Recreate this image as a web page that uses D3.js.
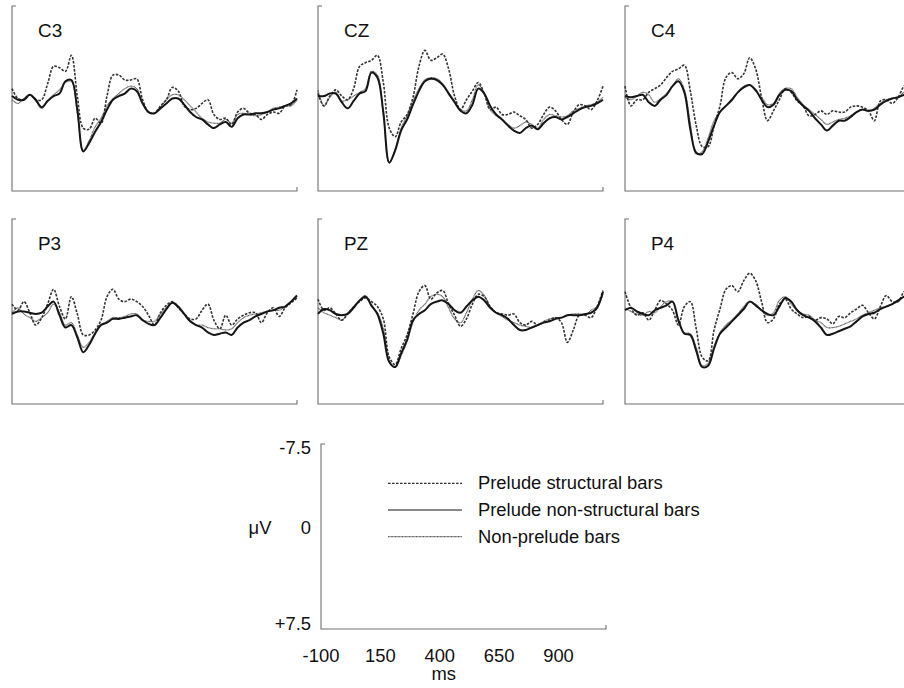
<!DOCTYPE html>
<html>
<head>
<meta charset="utf-8">
<script src="https://cdn.jsdelivr.net/npm/d3@7"></script>
<style>
  body { margin: 0; background: #fff; }
  text { font-family: "Liberation Sans", Arial, sans-serif; fill: #111; }
</style>
</head>
<body>
<div id="chart"></div>
<script>
// sampling grid of the waveforms, ms (one value every 25 ms)
const times = d3.range(-100, 1101, 25);

const electrodes = ['C3', 'CZ', 'C4', 'P3', 'PZ', 'P4'];
const seriesNames = ['Prelude structural bars', 'Prelude non-structural bars', 'Non-prelude bars'];
const xTicks = [-100, 150, 400, 650, 900];
const yTicks = [-7.5, 0, 7.5];
const yTickLabels = ['-7.5', '0', '+7.5'];

// amplitudes in microvolts (negative plotted up)
const c3Struct = [-0.8, 0.0, 0.1, -0.3, 0.1, 0.1, -1.2, -2.6, -2.5, -2.2, -3.5, -0.2, 2.4, 2.5, 1.6, 2.0, -0.2, -1.9, -1.9, -1.5, -1.5, -1.6, 0.1, 1.1, 1.2, 0.6, 0.1, -0.9, -0.6, 0.6, 0.9, 0.8, 0.4, 0.1, 1.3, 1.7, 1.6, 2.1, 1.1, 0.8, 1.2, 1.3, 1.7, 1.3, 1.1, 1.2, 0.6, 0.5, -0.7];
const c3NonStruct = [-0.2, 0.1, 0.1, -0.3, 0.1, 0.7, 0.2, -0.2, -0.4, -1.4, -1.5, 0.9, 4.3, 3.6, 2.7, 1.9, 0.9, 0.1, -0.2, -0.4, -0.8, -0.6, 0.4, 1.1, 1.2, 0.8, 0.4, 0.0, 0.0, 0.5, 1.1, 1.5, 1.7, 2.1, 2.4, 2.1, 1.9, 2.3, 1.6, 1.3, 1.3, 1.2, 1.2, 1.1, 0.9, 0.8, 0.6, 0.4, 0.0];
const c3NonPrelude = [0.1, 0.4, 0.0, -0.3, 0.2, 0.8, 0.2, -0.3, -0.7, -1.3, -1.4, 1.2, 4.2, 3.4, 2.3, 1.6, 0.6, 0.0, -0.4, -0.8, -1.0, -0.8, 0.4, 1.1, 1.2, 0.7, 0.1, -0.3, -0.3, 0.1, 0.6, 1.1, 1.6, 1.9, 2.0, 2.0, 1.7, 2.0, 1.3, 1.2, 1.3, 1.4, 1.3, 1.1, 0.8, 0.7, 0.6, 0.6, 0.1];

const czStruct = [-0.4, 0.6, -0.2, -0.7, -0.2, 0.1, -0.8, -2.6, -2.9, -3.1, -3.5, -1.3, 2.4, 3.1, 1.9, 1.3, -0.1, -2.6, -3.9, -3.1, -3.3, -3.6, -2.4, -0.2, 0.9, 0.1, -0.6, -1.3, -0.4, 0.9, 0.7, 1.3, 1.3, 1.1, 1.4, 1.7, 2.4, 2.1, 1.3, 0.7, 1.0, 1.7, 2.1, 1.1, 0.5, 0.6, 0.9, 0.2, -1.0];
const czNonStruct = [-0.2, -0.2, -0.4, -0.4, 0.3, 0.8, 0.2, -0.4, -0.6, -2.1, -1.7, 1.1, 5.2, 4.2, 2.6, 1.7, 0.5, -0.6, -1.4, -1.6, -1.5, -1.1, -0.4, 0.3, 1.0, 1.2, 0.5, -0.8, -0.4, 0.6, 1.3, 1.7, 2.2, 2.6, 2.8, 2.4, 2.2, 2.5, 2.0, 1.6, 1.5, 1.7, 1.5, 1.2, 0.9, 0.7, 0.6, 0.4, 0.1];
const czNonPrelude = [-0.7, 0.6, -0.1, -0.5, 0.2, 0.1, -0.2, -0.5, -0.8, -2.2, -1.9, 1.3, 5.2, 4.1, 2.4, 1.4, 0.2, -0.8, -1.5, -1.7, -1.6, -1.2, -0.5, 0.2, 0.9, 1.0, 0.1, -1.1, -0.4, 0.9, 1.4, 1.7, 2.1, 2.4, 2.2, 1.9, 2.1, 2.4, 1.7, 1.3, 1.4, 1.5, 1.4, 1.0, 0.8, 0.6, 0.5, 0.3, -0.1];

const c4Struct = [-1.0, 0.6, 0.1, 0.1, -0.5, -0.8, -1.1, -1.7, -2.2, -2.4, -2.7, -0.6, 2.2, 3.9, 3.9, 2.2, 0.6, -1.7, -2.1, -1.6, -2.0, -3.3, -2.4, -0.1, 1.8, 1.0, 0.1, -0.8, -0.5, 0.2, 0.6, 1.4, 1.3, 1.0, 1.3, 1.0, 1.1, 1.1, 0.7, 0.6, 0.7, 1.0, 1.8, 0.2, 0.1, 0.4, -0.1, -1.0, -1.3];
const c4NonStruct = [-0.2, -0.1, -0.2, -0.3, 0.3, 0.6, 0.1, -0.3, -1.0, -1.4, -0.5, 2.5, 4.4, 4.5, 3.5, 2.2, 1.1, 0.6, 0.1, -0.5, -0.9, -1.1, -0.7, 0.1, 0.7, 0.5, -0.3, -0.7, -0.6, 0.1, 0.6, 1.0, 1.6, 2.1, 2.6, 2.2, 1.8, 1.8, 1.5, 1.1, 0.9, 1.0, 0.9, 0.5, 0.2, 0.0, -0.1, -0.3, -0.5];
const c4NonPrelude = [-0.1, 0.1, -0.2, -0.5, -0.3, 0.3, 0.0, -0.4, -1.0, -1.6, -0.7, 2.0, 4.5, 4.3, 3.2, 1.8, 1.1, 0.6, 0.2, -0.5, -1.0, -1.1, -0.6, -0.1, 0.5, 0.4, -0.4, -0.8, -0.8, -0.1, 0.5, 0.9, 1.3, 1.7, 2.1, 1.9, 1.7, 1.6, 1.4, 1.1, 0.9, 1.0, 0.8, 0.4, 0.1, 0.0, -0.1, -0.5, -0.7];

const p3Struct = [-0.6, -0.1, -0.8, 0.1, 1.1, 0.5, -0.6, -1.8, -0.4, 0.6, -1.2, 0.2, 1.9, 1.9, 1.5, 0.7, -1.2, -1.8, -1.0, -0.8, -1.0, -0.8, -0.4, 0.3, 1.1, 0.1, -0.5, -0.8, -0.3, 0.2, 0.6, 0.6, -0.1, -0.6, 0.7, 1.4, 0.3, 1.1, 0.6, 0.3, 0.1, 0.1, 0.9, 0.1, -0.3, 0.4, -0.3, -0.7, -1.1];
const p3NonStruct = [0.2, 0.0, 0.0, 0.1, 0.2, 0.1, -0.4, -0.8, 0.3, 1.3, 1.1, 2.1, 3.3, 2.7, 1.8, 1.1, 0.9, 0.6, 0.6, 0.5, 0.4, 0.3, 0.7, 1.0, 1.1, 0.5, -0.2, -0.7, -0.4, 0.2, 0.8, 1.1, 1.3, 1.7, 1.9, 1.8, 1.7, 1.9, 1.3, 0.9, 0.7, 0.4, 0.2, 0.0, -0.1, -0.3, -0.4, -0.8, -1.3];
const p3NonPrelude = [0.1, -0.3, 0.2, 0.5, 0.8, 0.5, 0.1, -0.6, 0.1, 1.1, 0.9, 1.9, 2.9, 2.5, 1.7, 1.1, 0.8, 0.5, 0.5, 0.4, 0.2, 0.2, 0.7, 0.8, 0.8, 0.2, -0.3, -0.7, -0.3, 0.2, 0.7, 1.1, 1.1, 1.3, 1.4, 1.4, 1.5, 1.4, 0.9, 0.5, 0.3, 0.2, 0.1, 0.0, -0.1, -0.1, -0.4, -0.8, -1.1];

const pzStruct = [-1.0, -0.1, -0.3, 0.2, 0.7, 0.2, -0.4, -0.8, -1.1, -0.8, -0.4, 0.6, 3.7, 4.3, 3.0, 1.9, 0.2, -1.6, -2.1, -1.0, -1.5, -1.7, -0.6, 0.3, 1.2, 0.6, -0.6, -1.4, -1.2, -0.4, 0.1, 0.2, 0.3, 0.2, 0.9, 1.1, 0.8, 1.1, 0.9, 0.7, 0.5, 0.9, 2.5, 1.5, 0.3, 0.3, 0.5, -0.4, -1.7];
const pzNonStruct = [0.2, -0.2, -0.1, 0.2, 0.3, 0.2, -0.3, -0.9, -1.2, -0.5, 0.2, 1.8, 4.1, 4.5, 3.4, 2.3, 0.7, 0.2, -0.1, -0.6, -0.8, -0.9, -0.6, -0.1, 0.1, -0.4, -0.9, -1.2, -0.9, -0.3, 0.1, 0.3, 0.6, 1.1, 1.5, 1.5, 1.3, 1.1, 0.9, 0.8, 0.6, 0.5, 0.3, 0.3, 0.3, 0.2, 0.1, -0.3, -1.6];
const pzNonPrelude = [-0.3, 0.1, 0.3, 0.5, 0.7, 0.1, -0.4, -0.9, -1.3, -0.4, 0.1, 1.4, 4.0, 4.5, 3.6, 2.4, 0.9, -0.1, -0.6, -1.2, -1.4, -1.2, -0.3, 0.6, 0.9, 0.1, -1.0, -1.7, -1.3, -0.4, 0.1, 0.4, 0.7, 0.9, 1.1, 1.2, 1.3, 1.1, 0.8, 0.6, 0.5, 0.5, 0.3, 0.2, 0.2, 0.3, -0.1, -0.4, -1.4];

const p4Struct = [-1.6, -0.3, 0.3, 0.1, 0.7, -0.1, -0.9, -0.6, -0.1, 1.1, -0.4, -0.8, 1.4, 3.7, 4.0, 1.5, -0.2, -1.8, -2.1, -1.6, -2.5, -3.1, -2.5, -0.8, 0.9, 0.6, -0.6, -1.0, -0.2, 0.2, 0.5, 0.4, 0.7, 0.5, 0.6, 1.0, 0.4, 0.5, 0.1, -0.2, -0.5, 0.1, 0.6, -0.4, -1.3, -0.8, -0.8, -1.6, -1.8];
const p4NonStruct = [-0.1, -0.3, 0.0, 0.2, 0.3, -0.1, -0.3, -0.5, -0.8, 0.7, 1.8, 1.9, 3.2, 4.5, 4.4, 3.0, 1.8, 1.3, 0.8, 0.3, -0.2, -0.8, -0.5, -0.1, 0.2, 0.3, -0.4, -1.1, -0.8, -0.1, 0.3, 0.5, 0.8, 1.3, 1.9, 1.8, 1.6, 1.4, 1.2, 0.8, 0.4, 0.2, 0.1, -0.2, -0.4, -0.6, -0.9, -1.2, -1.3];
const p4NonPrelude = [-0.3, 0.0, 0.2, 0.3, 0.0, 0.1, -0.4, -0.8, -0.8, 0.9, 1.7, 1.8, 2.9, 4.4, 4.2, 2.8, 1.7, 1.1, 0.7, 0.2, -0.4, -0.8, -0.6, -0.1, 0.3, 0.1, -0.9, -1.2, -0.6, -0.1, 0.2, 0.3, 0.7, 0.9, 1.3, 1.3, 1.2, 1.0, 0.8, 0.6, 0.3, 0.1, -0.1, -0.3, -0.4, -0.6, -0.8, -1.2, -1.4];

const waves = {
    C3: [c3Struct, c3NonStruct, c3NonPrelude],
    CZ: [czStruct, czNonStruct, czNonPrelude],
    C4: [c4Struct, c4NonStruct, c4NonPrelude],
    P3: [p3Struct, p3NonStruct, p3NonPrelude],
    PZ: [pzStruct, pzNonStruct, pzNonPrelude],
    P4: [p4Struct, p4NonStruct, p4NonPrelude]
};

const W = 904, H = 688;
const pw = 285, ph = 185;
const cols = [12, 318, 625];
const rows = [6, 219];

// dashed / solid / fine grey
const styles = [
    { stroke: '#333', width: 1.6, dash: '2.6,1.4', legendWidth: 1.3 },
    { stroke: '#151515', width: 2, dash: null, legendWidth: 1.2 },
    { stroke: '#5a5a5a', width: 1.2, dash: '1,0.4', legendWidth: 1.4 }
];
const drawOrder = [2, 0, 1];

const svg = d3.select('#chart').append('svg')
    .attr('width', W)
    .attr('height', H);

const x = d3.scaleLinear().domain([-100, 1100]).range([0, pw]);
const y = d3.scaleLinear().domain([-7.5, 7.5]).range([0, ph]);

const line = d3.line()
    .x((d, i) => x(times[i]))
    .y(d => y(d))
    .curve(d3.curveCatmullRom.alpha(0.5));

// text in the figure is slightly wider than Arial
function label(g, tx, ty, txt, anchor, size) {
    return g.append('text')
        .attr('transform', `translate(${tx},${ty}) scale(1.05,1)`)
        .attr('text-anchor', anchor)
        .style('font-size', size + 'px')
        .text(txt);
}

function frame(g) {
    g.append('path')
        .attr('d', `M4,0H0V${ph}H${pw}V${ph - 4}`)
        .attr('fill', 'none')
        .attr('stroke', '#6f6f6f')
        .attr('stroke-width', 1.1);
}

electrodes.forEach((name, i) => {
    const g = svg.append('g')
        .attr('transform', `translate(${cols[i % 3]},${rows[Math.floor(i / 3)]})`);
    frame(g);
    label(g, 26, 31, name, 'start', 18);

    drawOrder.forEach(s => {
        g.append('path')
            .attr('d', line(waves[name][s]))
            .attr('fill', 'none')
            .attr('stroke', styles[s].stroke)
            .attr('stroke-width', styles[s].width)
            .attr('stroke-dasharray', styles[s].dash)
            .attr('stroke-linejoin', 'round');
    });
});

// scale / legend panel
const sg = svg.append('g').attr('transform', 'translate(321,444)');
frame(sg);

xTicks.forEach(t => label(sg, x(t), 217.5, t, 'middle', 17.5));
label(sg, x(400) + 4, 236, 'ms', 'middle', 17.5);

const yLab = d3.scaleLinear().domain([-7.5, 0, 7.5]).range([10, 90, 186]);
yTicks.forEach((v, i) => label(sg, -10, yLab(v), yTickLabels[i], 'end', 17.5));
label(sg, -61, yLab(0), 'μV', 'middle', 17.5);

const legendRows = d3.scaleBand().domain(seriesNames).range([26, 106]);
seriesNames.forEach((n, s) => {
    const ly = legendRows(n) + legendRows.bandwidth() / 2;
    sg.append('line')
        .attr('x1', 67).attr('x2', 141)
        .attr('y1', ly).attr('y2', ly)
        .attr('stroke', styles[s].stroke)
        .attr('stroke-width', styles[s].legendWidth)
        .attr('stroke-dasharray', styles[s].dash);
    label(sg, 157, ly + 6, n, 'start', 17.5);
});
</script>
</body>
</html>
